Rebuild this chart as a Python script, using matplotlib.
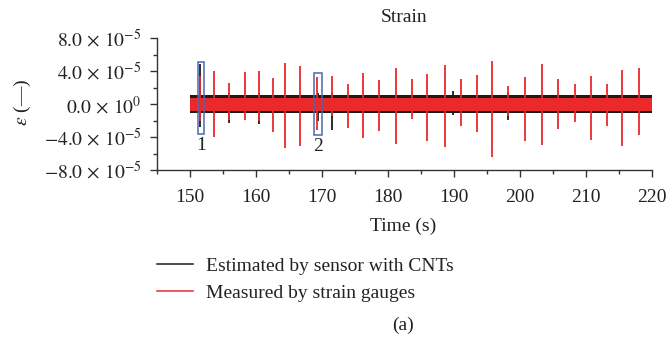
import matplotlib
matplotlib.use("Agg")
import matplotlib.pyplot as plt
from matplotlib.patches import Rectangle
from matplotlib.lines import Line2D
from matplotlib.ticker import FixedLocator, FixedFormatter, MultipleLocator

plt.rcParams['font.family'] = ['Liberation Serif', 'DejaVu Serif']
plt.rcParams['mathtext.fontset'] = 'stix'

# ---- data ----
t_start, t_end = 150.0, 220.0
black_band = 1.1e-5       # half-width of the CNT sensor noise band
red_band = 0.8e-5         # half-width of the strain-gauge noise band

# red spikes (strain gauges)
spike_t = [151.56, 153.69, 155.96, 158.3, 160.4, 162.5, 164.4, 166.7, 169.3,
           171.5, 174.0, 176.25, 178.7, 181.15, 183.7, 185.96, 188.6, 191.0,
           193.55, 195.8, 198.2, 200.7, 203.3, 205.8, 208.3, 210.7, 213.2,
           215.4, 218.1]
spike_hi = [3.4e-5, 4.0e-5, 2.6e-5, 3.9e-5, 4.0e-5, 3.2e-5, 5.0e-5, 4.6e-5, 3.3e-5,
            3.4e-5, 2.4e-5, 3.8e-5, 2.9e-5, 4.4e-5, 3.1e-5, 3.7e-5, 4.7e-5, 3.0e-5,
            3.5e-5, 5.2e-5, 2.2e-5, 3.3e-5, 4.9e-5, 3.1e-5, 2.4e-5, 3.4e-5, 2.5e-5,
            4.1e-5, 4.4e-5]
spike_lo = [-2.1e-5, -4.0e-5, -1.9e-5, -1.9e-5, -2.0e-5, -3.4e-5, -5.3e-5, -5.1e-5, -3.1e-5,
            -1.5e-5, -2.9e-5, -4.1e-5, -3.3e-5, -4.9e-5, -1.8e-5, -4.5e-5, -5.2e-5, -2.7e-5,
            -3.4e-5, -6.4e-5, -1.5e-5, -4.5e-5, -5.0e-5, -3.0e-5, -2.2e-5, -4.3e-5, -2.6e-5,
            -5.1e-5, -3.7e-5]

# black spikes (sensor with CNTs)
bspike_t = [151.56, 155.96, 160.4, 169.4, 171.5, 189.9, 198.2]
bspike_hi = [4.9e-5, 1.3e-5, 1.3e-5, 1.3e-5, 1.3e-5, 1.6e-5, 1.3e-5]
bspike_lo = [-2.8e-5, -2.3e-5, -2.4e-5, -2.0e-5, -3.2e-5, -1.3e-5, -1.9e-5]

# highlighted windows
box_t0 = [151.2, 168.8]
box_t1 = [152.1, 170.0]
box_lo = [-3.6e-5, -3.7e-5]
box_hi = [5.1e-5, 3.8e-5]
box_labels = ['1', '2']

x_major = [150, 160, 170, 180, 190, 200, 210, 220]
y_major = [-8e-5, -4e-5, 0.0, 4e-5, 8e-5]
y_labels = [r'$-8.0\,\times\,10^{-5}$', r'$-4.0\,\times\,10^{-5}$', r'$0.0\,\times\,10^{0}$',
            r'$4.0\,\times\,10^{-5}$', r'$8.0\,\times\,10^{-5}$']

series_names = ['Estimated by sensor with CNTs', 'Measured by strain gauges']
black = '#1b1b1b'
red = '#ea2a2a'
boxc = '#4a68b0'
axc = '#333333'
txt = '#222222'
fs = 14

W, H = 668, 345
fig = plt.figure(figsize=(W / 100, H / 100), dpi=100)
ax_l, ax_r, ax_b, ax_t = 157, 652, 170, 38.3
ax = fig.add_axes([ax_l / W, 1 - ax_b / H, (ax_r - ax_l) / W, (ax_b - ax_t) / H])

# black series
ax.fill_between([t_start, t_end], [-black_band] * 2, [black_band] * 2,
                color=black, lw=0, zorder=1)
ax.vlines(bspike_t, bspike_lo, bspike_hi, color=black, lw=1.3, zorder=2)
# red series
ax.fill_between([t_start, t_end], [-red_band] * 2, [red_band] * 2,
                color=red, lw=0, zorder=3)
ax.vlines(spike_t, spike_lo, spike_hi, color=red, lw=1.3, zorder=4)

for t0, t1, lo, hi, lab in zip(box_t0, box_t1, box_lo, box_hi, box_labels):
    ax.add_patch(Rectangle((t0, lo), t1 - t0, hi - lo, fill=False,
                           ec=boxc, lw=1.1, zorder=5))
    ax.text((t0 + t1) / 2, lo - 0.4e-5, lab, ha='center', va='top',
            fontsize=fs, color=txt)

ax.set_xlim(145, 220)
ax.set_ylim(-8e-5, 8e-5)
ax.xaxis.set_major_locator(FixedLocator(x_major))
ax.xaxis.set_minor_locator(MultipleLocator(5))
ax.yaxis.set_major_locator(FixedLocator(y_major))
ax.yaxis.set_major_formatter(FixedFormatter(y_labels))
ax.yaxis.set_minor_locator(MultipleLocator(2e-5))

for s in ['top', 'right']:
    ax.spines[s].set_visible(False)
for s in ['left', 'bottom']:
    ax.spines[s].set_color(axc)
    ax.spines[s].set_linewidth(1.0)
ax.tick_params(which='major', direction='out', length=5, width=1.0, color=axc,
               labelsize=fs, labelcolor=txt)
ax.tick_params(axis='x', which='major', pad=8.5)
ax.tick_params(axis='y', which='major', pad=6)
ax.tick_params(which='minor', direction='out', length=3, width=1.0, color=axc)

ax.set_title('Strain', fontsize=fs, color=txt, pad=12)
ax.set_xlabel('Time (s)', fontsize=fs, color=txt, va='center')
ax.xaxis.set_label_coords((403 - ax_l) / (ax_r - ax_l), (ax_b - 226) / (ax_b - ax_t))
ax.set_ylabel(r'$\varepsilon$ (—)', fontsize=fs, color=txt, va='center')
ax.yaxis.set_label_coords((22.5 - ax_l) / (ax_r - ax_l), (ax_b - 102) / (ax_b - ax_t))

handles = [Line2D([], [], color=black, lw=1.1), Line2D([], [], color=red, lw=1.1)]
fig.legend(handles, series_names, loc='upper left',
           bbox_to_anchor=(157 / W, 1 - 257 / H), frameon=False, borderpad=0,
           borderaxespad=0, fontsize=fs, handlelength=1.85, handletextpad=0.69,
           labelspacing=0.5, labelcolor=txt)
fig.text(403 / W, 1 - 325 / H, '(a)', ha='center', va='center', fontsize=fs,
         color=txt)

fig.savefig('out.png', dpi=100)
